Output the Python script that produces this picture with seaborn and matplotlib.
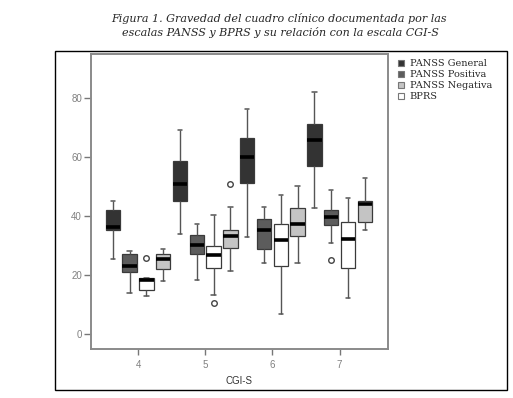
import numpy as np
import pandas as pd
import matplotlib
matplotlib.use("Agg")
import matplotlib.pyplot as plt
from matplotlib.patches import Rectangle
from matplotlib.lines import Line2D
import seaborn as sns

# ---- data ----
cgi_levels = ["4", "5", "6", "7"]
legend_order = ["PANSS General", "PANSS Positiva", "PANSS Negativa", "BPRS"]
plot_order = ["PANSS General", "PANSS Positiva", "BPRS", "PANSS Negativa"]

general_lo  = [25.5, 34.1, 33.0, 42.9]
general_q1  = [35.3, 45.1, 51.4, 56.9]
general_med = [36.4, 50.8, 60.1, 65.8]
general_q3  = [42.0, 58.6, 66.6, 71.2]
general_hi  = [45.2, 69.2, 76.2, 82.1]

positiva_lo  = [14.0, 18.3, 24.3, 31.1]
positiva_q1  = [21.1, 27.1, 29.0, 37.2]
positiva_med = [23.2, 30.4, 35.3, 39.8]
positiva_q3  = [27.1, 33.6, 39.0, 42.0]
positiva_hi  = [28.2, 37.3, 43.2, 49.0]

negativa_lo  = [18.1, 21.4, 24.3, 35.3]
negativa_q1  = [22.0, 29.4, 33.3, 38.1]
negativa_med = [25.4, 33.2, 37.3, 44.3]
negativa_q3  = [27.1, 35.5, 42.8, 45.1]
negativa_hi  = [29.0, 43.2, 50.2, 53.1]

bprs_lo  = [13.1, 13.2, 6.8, 12.4]
bprs_q1  = [15.1, 22.5, 23.3, 22.3]
bprs_med = [18.5, 26.8, 32.1, 32.4]
bprs_q3  = [18.9, 29.9, 37.3, 38.1]
bprs_hi  = [18.9, 40.3, 47.1, 46.3]

# outliers: (scale, CGI-S level, value)
outlier_scale = ["BPRS", "BPRS", "PANSS Negativa", "PANSS Positiva"]
outlier_level = ["4", "5", "5", "7"]
outlier_value = [26.0, 10.5, 51.1, 25.1]

colors = {"PANSS General": "#333333", "PANSS Positiva": "#5c5c5c",
          "PANSS Negativa": "#c4c4c4", "BPRS": "#ffffff"}

summaries = {
    "PANSS General": (general_lo, general_q1, general_med, general_q3, general_hi),
    "PANSS Positiva": (positiva_lo, positiva_q1, positiva_med, positiva_q3, positiva_hi),
    "PANSS Negativa": (negativa_lo, negativa_q1, negativa_med, negativa_q3, negativa_hi),
    "BPRS": (bprs_lo, bprs_q1, bprs_med, bprs_q3, bprs_hi),
}

# Build a sample whose quartiles / whiskers reproduce the summaries
rows = []
for scale, (lo, q1, med, q3, hi) in summaries.items():
    for i, lev in enumerate(cgi_levels):
        vals = [lo[i]] + [q1[i]] * 3 + [med[i]] * 3 + [q3[i]] * 3 + [hi[i]]
        for s, l, v in zip(outlier_scale, outlier_level, outlier_value):
            if s == scale and l == lev:
                vals.append(v)
        for v in vals:
            rows.append({"CGI-S": lev, "scale": scale, "value": v})
df = pd.DataFrame(rows)

# ---- figure ----
sns.set_style("white")
plt.rcParams["font.family"] = ["DejaVu Sans"]

W, H = 513, 398
fig = plt.figure(figsize=(W / 100, H / 100), dpi=100)
ax = fig.add_axes([91 / W, 1 - 349 / H, (388 - 91) / W, (349 - 54) / H])

sns.boxplot(data=df, x="CGI-S", y="value", hue="scale", order=cgi_levels,
            hue_order=plot_order, palette=colors, width=1.0, gap=0.15,
            linecolor="#3a3a3a", linewidth=0.9, fliersize=4,
            flierprops=dict(marker="o", markerfacecolor="none",
                            markeredgecolor="#444444", markeredgewidth=1.0),
            medianprops=dict(color="black", linewidth=2.6),
            whiskerprops=dict(color="#555555", linewidth=1.0),
            capprops=dict(color="#555555", linewidth=1.1),
            legend=False, ax=ax)

# narrower whisker caps, as in the reference
for ln in ax.lines:
    xd, yd = np.asarray(ln.get_xdata(), float), np.asarray(ln.get_ydata(), float)
    if len(xd) == 2 and yd[0] == yd[1] and abs(ln.get_linewidth() - 1.1) < 1e-6:
        c = xd.mean()
        half = (xd[1] - xd[0]) / 2 * 0.6
        ln.set_xdata([c - half, c + half])

ax.set_xlim(-0.7, 3.72)
ax.set_ylim(-5, 95)
ax.set_yticks([0, 20, 40, 60, 80])
ax.set_yticklabels(["0", "20", "40", "60", "80"])
ax.set_ylabel("")
ax.set_xlabel("CGI-S", fontsize=7, color="#333333", family="Liberation Sans", labelpad=4)
for sp in ax.spines.values():
    sp.set_visible(True)
    sp.set_color("#8a8a8a")
    sp.set_linewidth(1.4)
ax.tick_params(axis="y", length=5, width=1, color="#777777", labelsize=7,
               labelcolor="#808080", pad=1.5, left=True)
ax.tick_params(axis="x", length=4, width=1, color="#777777", labelsize=7,
               labelcolor="#808080", pad=4, bottom=True)
for t in ax.get_xticklabels() + ax.get_yticklabels():
    t.set_family("Liberation Sans")

# legend
handles = [Line2D([], [], linestyle="none", marker="s", markersize=5,
                  markerfacecolor=colors[s], markeredgecolor="#777777",
                  markeredgewidth=0.8) for s in legend_order]
fig.legend(handles, legend_order, loc="upper left",
           bbox_to_anchor=(397 / W, 1 - 59 / H), frameon=False,
           prop={"family": "DejaVu Serif", "size": 7},
           handlelength=0.8, handletextpad=0.5, labelspacing=0.22,
           borderaxespad=0, borderpad=0)

# outer frame
fig.add_artist(Rectangle((55 / W, 1 - 390 / H), (507 - 55) / W, (390 - 51) / H,
                         transform=fig.transFigure, fill=False,
                         edgecolor="black", linewidth=1.0))

# title
fig.text(279 / W, 1 - 18 / H,
         "Figura 1. Gravedad del cuadro clínico documentada por las",
         ha="center", va="center", fontsize=8, style="italic", family="DejaVu Serif")
fig.text(280 / W, 1 - 32 / H,
         "escalas PANSS y BPRS y su relación con la escala CGI-S",
         ha="center", va="center", fontsize=8, style="italic", family="DejaVu Serif")

fig.savefig("out.png", dpi=100)
